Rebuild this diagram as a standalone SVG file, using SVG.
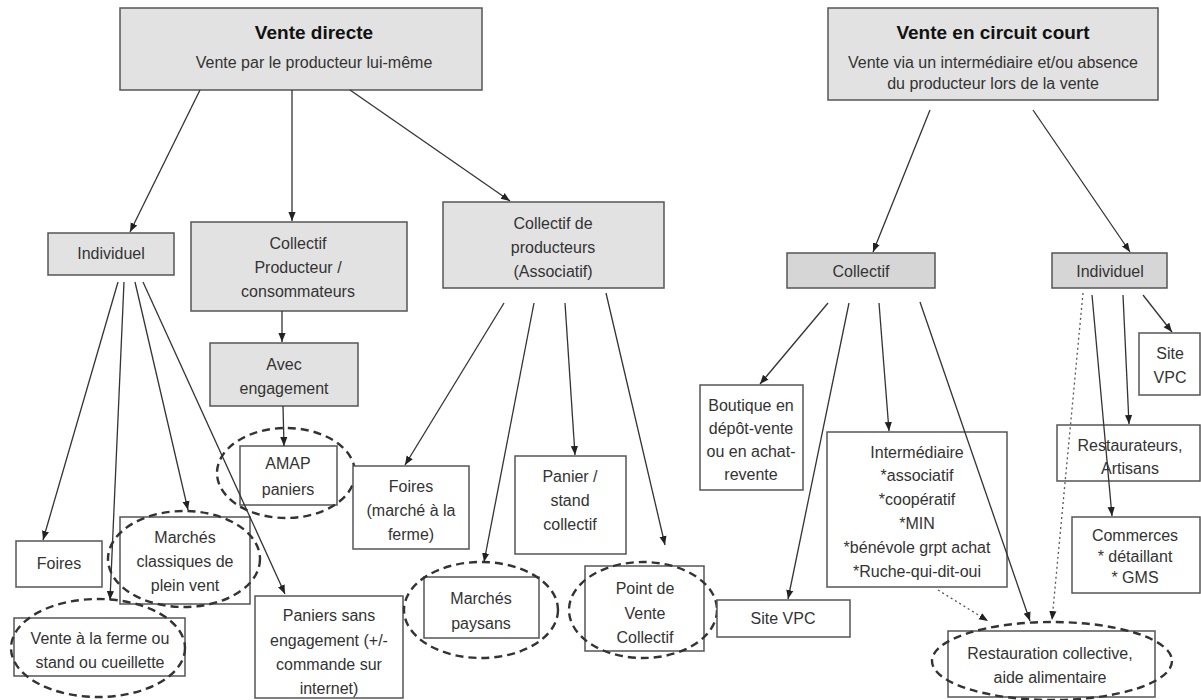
<svg xmlns="http://www.w3.org/2000/svg" width="1201" height="700" viewBox="0 0 1201 700">
<defs>
<marker id="ah" viewBox="0 0 10 10" refX="10" refY="5" markerWidth="9" markerHeight="9" markerUnits="userSpaceOnUse" orient="auto">
<path d="M0,1 L10,5 L0,9 z" fill="#222"/>
</marker>
<style>
.box{fill:#fff;stroke:#555;stroke-width:1.5}
.g{fill:#e2e2e2}
.g2{fill:#d6d6d6}
.ell{fill:none;stroke:#333;stroke-width:2.4;stroke-dasharray:8 5}
text{font-family:"Liberation Sans",Arial,sans-serif;font-size:16px;fill:#333;text-anchor:middle}
.t{font-size:19px;font-weight:bold;fill:#111}
.c{fill:none;stroke:#333;stroke-width:1.3;marker-end:url(#ah)}
.d{fill:none;stroke:#555;stroke-width:1.3;stroke-dasharray:2 3;marker-end:url(#ah)}
</style>
</defs>
<rect width="1201" height="700" fill="#fff"/>

<g id="vente-directe">
<rect class="box g" x="120" y="8" width="362" height="82"/>
<text class="t" x="314" y="39">Vente directe</text>
<text x="314" y="68">Vente par le producteur lui-même</text>
</g>

<g id="vente-circuit-court">
<rect class="box g" x="828" y="8" width="330" height="92"/>
<text class="t" x="993" y="39">Vente en circuit court</text>
<text x="993" y="68">Vente via un intermédiaire et/ou absence</text>
<text x="993" y="89">du producteur lors de la vente</text>
</g>

<g id="individuel-1">
<rect class="box g" x="48" y="233" width="126" height="42"/>
<text x="111" y="259">Individuel</text>
</g>

<g id="collectif-prod-conso">
<rect class="box g" x="191" y="222" width="216" height="89"/>
<text x="298" y="249">Collectif</text>
<text x="298" y="273">Producteur /</text>
<text x="298" y="297">consommateurs</text>
</g>

<g id="avec-engagement">
<rect class="box g" x="210" y="343" width="148" height="63"/>
<text x="284" y="370">Avec</text>
<text x="284" y="394">engagement</text>
</g>

<g id="amap">
<rect class="box" x="240" y="446" width="97" height="59"/>
<text x="288" y="469">AMAP</text>
<text x="288" y="495">paniers</text>
<ellipse class="ell" cx="286" cy="473" rx="69" ry="45"/>
</g>

<g id="collectif-producteurs">
<rect class="box g" x="443" y="202" width="221" height="86"/>
<text x="553" y="229">Collectif de</text>
<text x="553" y="253">producteurs</text>
<text x="553" y="277">(Associatif)</text>
</g>

<g id="foires-1">
<rect class="box" x="16" y="541" width="86" height="46"/>
<text x="59" y="569">Foires</text>
</g>

<g id="marches-classiques">
<rect class="box" x="120" y="517" width="130" height="87"/>
<text x="185" y="543">Marchés</text>
<text x="185" y="567">classiques de</text>
<text x="185" y="591">plein vent</text>
<ellipse class="ell" cx="184" cy="559" rx="76" ry="48"/>
</g>

<g id="vente-ferme">
<rect class="box" x="14" y="618" width="171" height="58"/>
<text x="100" y="644">Vente à la ferme ou</text>
<text x="100" y="668">stand ou cueillette</text>
<ellipse class="ell" cx="98" cy="648" rx="87" ry="49"/>
</g>

<g id="paniers-sans-engagement">
<rect class="box" x="255" y="596" width="148" height="102"/>
<text x="329" y="621">Paniers sans</text>
<text x="329" y="646">engagement (+/-</text>
<text x="329" y="670">commande sur</text>
<text x="329" y="694">internet)</text>
</g>

<g id="foires-2">
<rect class="box" x="353" y="466" width="116" height="83"/>
<text x="411" y="492">Foires</text>
<text x="411" y="516">(marché à la</text>
<text x="411" y="540">ferme)</text>
</g>

<g id="panier-stand">
<rect class="box" x="515" y="456" width="111" height="98"/>
<text x="570" y="482">Panier /</text>
<text x="570" y="506">stand</text>
<text x="570" y="530">collectif</text>
</g>

<g id="marches-paysans">
<rect class="box" x="424" y="577" width="115" height="61"/>
<text x="481" y="604">Marchés</text>
<text x="481" y="629">paysans</text>
<ellipse class="ell" cx="481" cy="610" rx="77" ry="48"/>
</g>

<g id="point-vente-collectif">
<rect class="box" x="585" y="566" width="119" height="85"/>
<text x="645" y="594">Point de</text>
<text x="645" y="619">Vente</text>
<text x="645" y="643">Collectif</text>
<ellipse class="ell" cx="643" cy="610" rx="74" ry="48"/>
</g>

<g id="collectif-2">
<rect class="box g2" x="787" y="253" width="148" height="35"/>
<text x="861" y="277">Collectif</text>
</g>

<g id="individuel-2">
<rect class="box g2" x="1052" y="253" width="115" height="35"/>
<text x="1110" y="277">Individuel</text>
</g>

<g id="boutique">
<rect class="box" x="700" y="385" width="103" height="105"/>
<text x="751" y="411">Boutique en</text>
<text x="751" y="434">dépôt-vente</text>
<text x="751" y="457">ou en achat-</text>
<text x="751" y="480">revente</text>
</g>

<g id="site-vpc-1">
<rect class="box" x="717" y="600" width="133" height="37"/>
<text x="783" y="624">Site VPC</text>
</g>

<g id="intermediaire">
<rect class="box" x="827" y="432" width="180" height="155"/>
<text x="917" y="458">Intermédiaire</text>
<text x="917" y="481">*associatif</text>
<text x="917" y="505">*coopératif</text>
<text x="917" y="529">*MIN</text>
<text x="917" y="553">*bénévole grpt achat</text>
<text x="917" y="577">*Ruche-qui-dit-oui</text>
</g>

<g id="site-vpc-2">
<rect class="box" x="1139" y="333" width="61" height="62"/>
<text x="1170" y="359">Site</text>
<text x="1170" y="383">VPC</text>
</g>

<g id="restaurateurs">
<rect class="box" x="1057" y="425" width="143" height="56"/>
<text x="1130" y="451">Restaurateurs,</text>
<text x="1130" y="474">Artisans</text>
</g>

<g id="commerces">
<rect class="box" x="1072" y="517" width="128" height="76"/>
<text x="1135" y="541">Commerces</text>
<text x="1135" y="562">* détaillant</text>
<text x="1135" y="583">* GMS</text>
</g>

<g id="restauration">
<rect class="box" x="948" y="631" width="207" height="66"/>
<text x="1050" y="659">Restauration collective,</text>
<text x="1050" y="683">aide alimentaire</text>
<ellipse class="ell" cx="1052" cy="661" rx="120" ry="39"/>
</g>

<g id="connectors">
<line class="c" x1="200" y1="90" x2="130" y2="232"/>
<line class="c" x1="292" y1="90" x2="292" y2="221"/>
<line class="c" x1="350" y1="90" x2="510" y2="201"/>
<line class="c" x1="282" y1="311" x2="282" y2="342"/>
<line class="c" x1="283" y1="406" x2="284" y2="446"/>
<line class="c" x1="118" y1="282" x2="43" y2="540"/>
<line class="c" x1="124" y1="282" x2="110" y2="600"/>
<line class="c" x1="135" y1="282" x2="188" y2="510"/>
<line class="c" x1="143" y1="282" x2="285" y2="594"/>
<line class="c" x1="504" y1="303" x2="405" y2="465"/>
<line class="c" x1="534" y1="303" x2="484" y2="562"/>
<line class="c" x1="565" y1="303" x2="575" y2="455"/>
<line class="c" x1="606" y1="293" x2="665" y2="545"/>
<line class="c" x1="930" y1="110" x2="873" y2="252"/>
<line class="c" x1="1033" y1="110" x2="1130" y2="252"/>
<line class="c" x1="828" y1="303" x2="760" y2="384"/>
<line class="c" x1="849" y1="303" x2="788" y2="599"/>
<line class="c" x1="879" y1="303" x2="889" y2="431"/>
<line class="c" x1="920" y1="302" x2="1030" y2="621"/>
<line class="c" x1="1092" y1="295" x2="1112" y2="516"/>
<line class="c" x1="1123" y1="295" x2="1129" y2="424"/>
<line class="c" x1="1143" y1="295" x2="1172" y2="332"/>
<line class="d" x1="938" y1="590" x2="988" y2="621"/>
<line class="d" x1="1083" y1="293" x2="1052" y2="620"/>
</g>
</svg>
